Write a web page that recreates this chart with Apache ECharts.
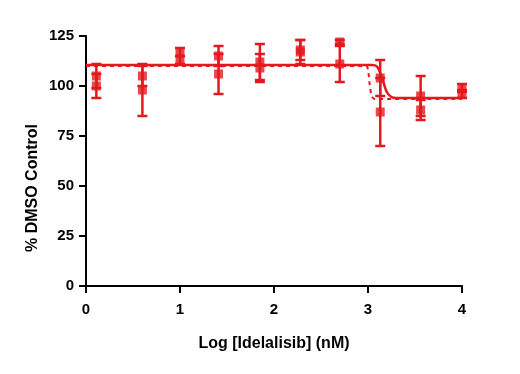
<!DOCTYPE html>
<html>
<head>
    <meta charset="utf-8">
    <title>Idelalisib</title>
    <script src="https://cdn.jsdelivr.net/npm/echarts@6/dist/echarts.min.js"></script>
</head>
<body style="margin:0">
<div id="main" style="width: 520px;height:374px;"></div>
<script type="text/javascript">
    // log dose positions
    var doses = [0.11, 0.60, 1.00, 1.41, 1.85, 2.28, 2.70, 3.13, 3.56, 4.00];
    // replicate set A (solid fit) and B (dashed fit), mean and SD
    var meanA = [105, 105, 117, 115, 112, 118, 122, 104, 95, 99];
    var sdA = [6, 5, 2, 5, 9, 5, 1, 9, 10, 2];
    var meanB = [100, 98, 113, 106, 109, 117, 111, 87, 88, 96];
    var sdB = [6, 13, 2, 10, 7, 6, 9, 17, 5, 2];
    // fitted curves
    var fitAx = [0, 3.05, 3.10, 3.15, 3.20, 3.25, 3.30, 4.0];
    var fitAy = [110.5, 110.5, 109.5, 104, 97, 94.5, 94, 94];
    var fitBx = [0, 2.98, 3.00, 3.02, 3.04, 3.07, 4.0];
    var fitBy = [110, 110, 108, 100, 95, 93.5, 93.5];

    var red = '#e3191f';
    var font = 'Liberation Sans, Arial, sans-serif';

    function zip(xs, ys) {
        return xs.map(function (x, i) { return [x, ys[i]]; });
    }
    function errData(means, sds) {
        return doses.map(function (x, i) { return [x, means[i] - sds[i], means[i] + sds[i]]; });
    }

    function renderErr(params, api) {
        var lo = api.coord([api.value(0), api.value(1)]);
        var hi = api.coord([api.value(0), api.value(2)]);
        var w = 5;
        var st = { stroke: red, lineWidth: 2.5 };
        return {
            type: 'group',
            children: [
                { type: 'line', shape: { x1: lo[0], y1: lo[1], x2: hi[0], y2: hi[1] }, style: st },
                { type: 'line', shape: { x1: lo[0] - w, y1: lo[1], x2: lo[0] + w, y2: lo[1] }, style: st },
                { type: 'line', shape: { x1: hi[0] - w, y1: hi[1], x2: hi[0] + w, y2: hi[1] }, style: st }
            ]
        };
    }

    var myChart = echarts.init(document.getElementById('main'));
    var axisStyle = { lineStyle: { color: '#000', width: 2 } };
    var tickStyle = { length: 7, lineStyle: { color: '#000', width: 2 } };
    var option = {
        animation: false,
        backgroundColor: '#fff',
        grid: { left: 86, right: 58, top: 36, bottom: 88 },
        xAxis: {
            type: 'value', min: 0, max: 4, interval: 1,
            name: 'Log [Idelalisib] (nM)', nameLocation: 'middle', nameGap: 50,
            nameTextStyle: { fontFamily: font, fontWeight: 'bold', fontSize: 16, color: '#000' },
            axisLine: axisStyle,
            axisTick: tickStyle,
            axisLabel: { fontFamily: font, fontWeight: 'bold', fontSize: 15, color: '#000', margin: 16 },
            splitLine: { show: false }
        },
        yAxis: {
            type: 'value', min: 0, max: 125, interval: 25,
            axisLine: axisStyle,
            axisTick: tickStyle,
            axisLabel: { fontFamily: font, fontWeight: 'bold', fontSize: 15, color: '#000', margin: 12 },
            splitLine: { show: false }
        },
        graphic: [{
            type: 'text', left: 25, top: 124, rotation: Math.PI / 2,
            style: { text: '% DMSO Control', fontFamily: font, fontWeight: 'bold', fontSize: 16, fill: '#000' }
        }],
        series: [
            { type: 'line', data: zip(fitAx, fitAy), smooth: 0.3, symbol: 'none', lineStyle: { color: red, width: 2.5 } },
            { type: 'line', data: zip(fitBx, fitBy), smooth: 0.3, symbol: 'none', lineStyle: { color: red, width: 2, type: [4, 4] } },
            { type: 'custom', data: errData(meanA, sdA), renderItem: renderErr, encode: { x: 0, y: [1, 2] } },
            { type: 'custom', data: errData(meanB, sdB), renderItem: renderErr, encode: { x: 0, y: [1, 2] } },
            { type: 'scatter', data: zip(doses, meanA), symbol: 'rect', symbolSize: 9, itemStyle: { color: red } },
            { type: 'scatter', data: zip(doses, meanB), symbol: 'rect', symbolSize: 9, itemStyle: { color: red } }
        ]
    };
    myChart.setOption(option);
</script>
</body>
</html>
